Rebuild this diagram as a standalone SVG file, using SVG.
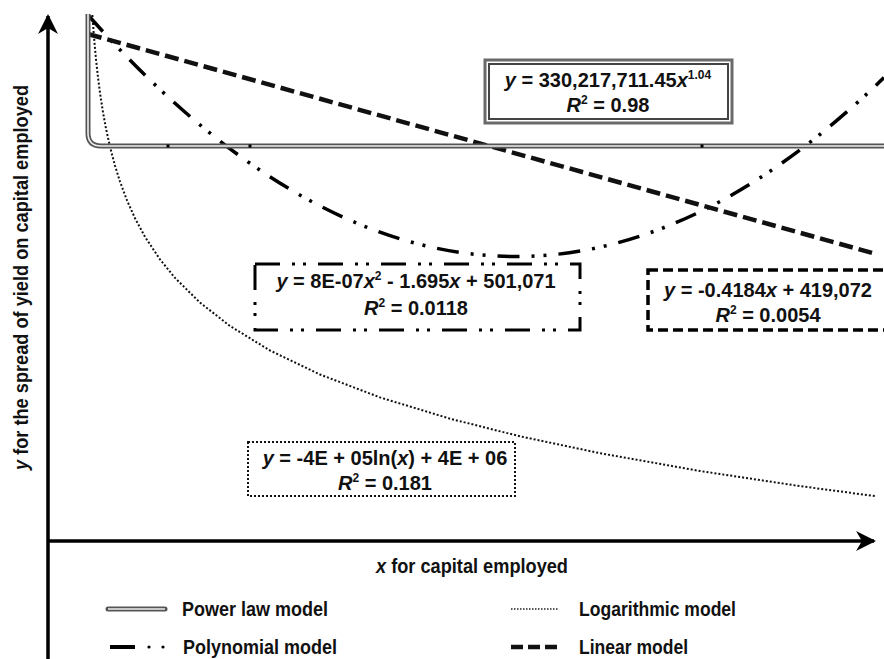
<svg xmlns="http://www.w3.org/2000/svg" width="884" height="659" viewBox="0 0 884 659">
<style>
text { font-family: "Liberation Sans", Arial, sans-serif; font-weight: bold; fill: #111; }
.eq { font-size: 20px; text-anchor: middle; }
.lbl { font-size: 21px; }
.i { font-style: italic; }
.sup { font-size: 12px; }
.axis { stroke: #000; stroke-width: 3.5; fill: none; }
.pw-o { stroke: #555; stroke-width: 5; fill: none; }
.pw-i { stroke: #eee; stroke-width: 1.6; fill: none; }
.poly { stroke: #000; stroke-width: 3.5; fill: none; stroke-dasharray: 22 12 3 9 3 12; }
.lin { stroke: #111; stroke-width: 4.5; fill: none; stroke-dasharray: 14 6; }
.log { stroke: #111; stroke-width: 2; fill: none; stroke-dasharray: 2 2; }
</style>
<defs>
<marker id="ah" viewBox="0 0 20 20" refX="18" refY="10" markerWidth="20" markerHeight="20" markerUnits="userSpaceOnUse" orient="auto">
<path d="M0,0 L20,10 L0,20 L6,10 Z" fill="#000"/>
</marker>
</defs>

<g id="axes">
<line class="axis" x1="48" y1="659" x2="48" y2="16" marker-end="url(#ah)"/>
<line class="axis" x1="48" y1="541" x2="874" y2="541" marker-end="url(#ah)"/>
</g>

<g id="connectors">
<path class="log" d="M92.4,15 L93,23.6 L94,36.9 L95,48.7 L96,59.3 L98,77.5 L100,92.9 L103,112.3 L106,128.6 L110,146.8 L115,165.7 L120,181.6 L127,200.4 L135,218.2 L145,236.8 L160,259.4 L175,277.9 L200,302.6 L230,326 L270,350.5 L320,374.5 L380,397.4 L450,418.7 L520,436.3 L600,453.2 L700,471 L800,486.1 L876,496.2"/>
<path class="poly" d="M88,15 Q486,464.4 884,77.6"/>
<path class="lin" d="M88,34 L876,254"/>
<path class="pw-o" d="M88,14 V133 Q88,146 101,146 H884"/>
<path class="pw-i" d="M88,14 V133 Q88,146 101,146 H884"/>
<rect x="166.5" y="144.5" width="3" height="3" fill="#000"/>
<rect x="248.5" y="144.5" width="3" height="3" fill="#000"/>
<rect x="700.5" y="144.5" width="3" height="3" fill="#000"/>
</g>

<g id="power-box">
<rect x="485" y="60" width="247" height="63" fill="#fff" stroke="#6a6a6a" stroke-width="3"/>
<rect x="489" y="64" width="239" height="55" fill="none" stroke="#444" stroke-width="2"/>
<text class="eq" x="608" y="87"><tspan class="i">y</tspan> = 330,217,711.45<tspan class="i">x</tspan><tspan class="sup" dy="-8">1.04</tspan></text>
<text class="eq" x="608" y="112"><tspan class="i">R</tspan><tspan class="sup" dy="-8">2</tspan><tspan dy="8"> = 0.98</tspan></text>
</g>

<g id="poly-box">
<rect x="255" y="264" width="325" height="66" fill="#fff" stroke="#000" stroke-width="3" stroke-dasharray="25 12 3 8 3 12"/>
<text class="eq" x="416" y="288"><tspan class="i">y</tspan> = 8E-07<tspan class="i">x</tspan><tspan class="sup" dy="-8">2</tspan><tspan dy="8"> - 1.695</tspan><tspan class="i">x</tspan> + 501,071</text>
<text class="eq" x="416" y="315"><tspan class="i">R</tspan><tspan class="sup" dy="-8">2</tspan><tspan dy="8"> = 0.0118</tspan></text>
</g>

<g id="linear-box">
<rect x="648" y="270" width="250" height="60" fill="#fff" stroke="#000" stroke-width="3.5" stroke-dasharray="10 5"/>
<text class="eq" x="768" y="297"><tspan class="i">y</tspan> = -0.4184<tspan class="i">x</tspan> + 419,072</text>
<text class="eq" x="768" y="322"><tspan class="i">R</tspan><tspan class="sup" dy="-8">2</tspan><tspan dy="8"> = 0.0054</tspan></text>
</g>

<g id="log-box">
<rect x="248" y="442" width="267" height="54" fill="#fff" stroke="#111" stroke-width="2" stroke-dasharray="2 2"/>
<text class="eq" x="385" y="465"><tspan class="i">y</tspan> = -4E + 05ln(<tspan class="i">x</tspan>) + 4E + 06</text>
<text class="eq" x="385" y="490"><tspan class="i">R</tspan><tspan class="sup" dy="-8">2</tspan><tspan dy="8"> = 0.181</tspan></text>
</g>

<g id="axis-labels">
<text class="lbl" x="376" y="573" font-size="20" textLength="192" lengthAdjust="spacingAndGlyphs"><tspan class="i">x</tspan> for capital employed</text>
<text class="lbl" transform="translate(28,470) rotate(-90)" x="0" y="0" textLength="385" lengthAdjust="spacingAndGlyphs"><tspan class="i">y</tspan> for the spread of yield on capital employed</text>
</g>

<g id="legend">
<line class="pw-o" x1="108" y1="609" x2="165" y2="609" stroke-linecap="round"/>
<line class="pw-i" x1="108" y1="609" x2="165" y2="609"/>
<text class="lbl" x="182" y="616" textLength="146" lengthAdjust="spacingAndGlyphs">Power law model</text>
<line x1="110" y1="647" x2="135" y2="647" stroke="#000" stroke-width="4"/>
<circle cx="149" cy="647" r="1.6" fill="#000"/>
<circle cx="163" cy="647" r="1.6" fill="#000"/>
<text class="lbl" x="183" y="654" textLength="154" lengthAdjust="spacingAndGlyphs">Polynomial model</text>
<line x1="511" y1="609" x2="559" y2="609" stroke="#222" stroke-width="1.5" stroke-dasharray="1.5 1.5"/>
<text class="lbl" x="579" y="616" textLength="157" lengthAdjust="spacingAndGlyphs">Logarithmic model</text>
<line x1="511" y1="647" x2="557" y2="647" stroke="#111" stroke-width="4.5" stroke-dasharray="12 5"/>
<text class="lbl" x="579" y="654" textLength="109" lengthAdjust="spacingAndGlyphs">Linear model</text>
</g>
</svg>
